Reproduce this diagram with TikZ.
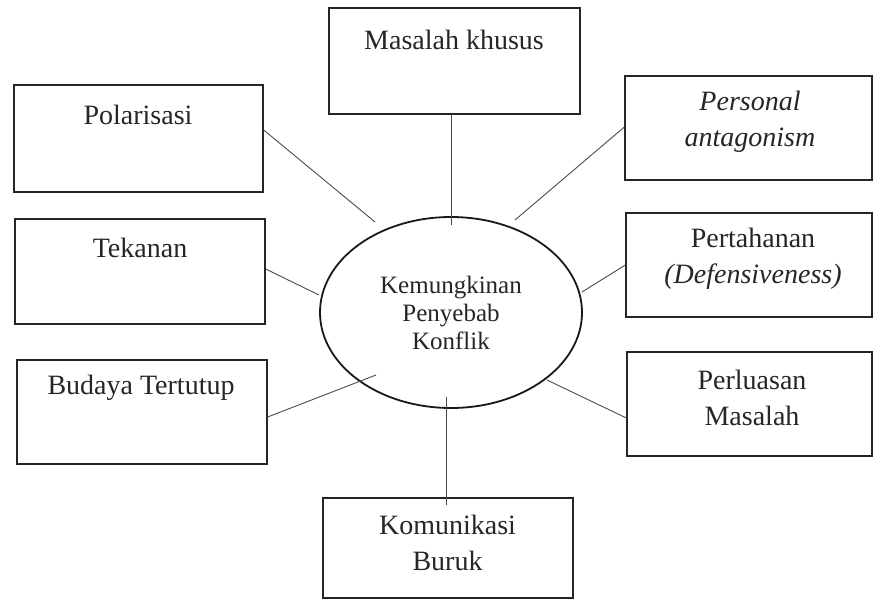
\documentclass[tikz,border=0pt]{standalone}
\usepackage{fontspec}
\setmainfont{Liberation Serif}
\usetikzlibrary{shapes.geometric}
\begin{document}
\begin{tikzpicture}[x=1pt,y=-1pt,
  box/.style={draw=black!85, line width=1.3pt, inner sep=0pt, minimum width=250pt, minimum height=105pt},
  lbl/.style={font=\fontsize{28}{36}\selectfont, align=center, inner sep=0pt, text=black!85},
  conn/.style={draw=black!70, line width=0.9pt},
  hub/.style={draw=black!90, line width=1.8pt, ellipse, inner sep=0pt, minimum width=262pt, minimum height=191pt,
    font=\fontsize{25}{28}\selectfont, align=center, text=black!85}]
\fill[white] (0,0) rectangle (874,601);
\useasboundingbox (0,0) rectangle (874,601);
% boxes
\node[box, minimum width=251pt, minimum height=106pt] (mk) at (454.5,61) {};
\node[box, minimum width=249pt, minimum height=107pt] (pol) at (138.5,138.5) {};
\node[box, minimum width=250pt, minimum height=105pt] (tek) at (140,271.5) {};
\node[box, minimum width=250pt, minimum height=104pt] (bud) at (142,412) {};
\node[box, minimum width=250pt, minimum height=100pt] (kom) at (448,548) {};
\node[box, minimum width=247pt, minimum height=104pt] (per) at (748.5,128) {};
\node[box, minimum width=246pt, minimum height=104pt] (pth) at (749,265) {};
\node[box, minimum width=245pt, minimum height=104pt] (plu) at (749.5,404) {};
% labels
\node[lbl] (mkt) at (454,40) {Masalah khusus};
\node[lbl] (polt) at (138,115) {Polarisasi};
\node[lbl] (tekt) at (140,248) {Tekanan};
\node[lbl] (budt) at (141,388) {Budaya Tertutup};
\node[lbl] (komt) at (447.5,542.5) {Komunikasi\\Buruk};
\node[lbl] (pert) at (750,121.5) {\itshape Personal\\\itshape antagonism};
\node[lbl] (ptht) at (753,259) {Pertahanan\\\itshape (Defensiveness)};
\node[lbl] (plut) at (752,397.5) {Perluasan\\Masalah};
% hub
\node[hub] (c) at (451,312.5) {Kemungkinan\\Penyebab\\Konflik};
% connector ends near the hub
\coordinate (cmk) at (451,225);
\coordinate (cpol) at (375,222);
\coordinate (cper) at (515,220);
\coordinate (ctek) at (319,295);
\coordinate (cpth) at (582,292);
\coordinate (cbud) at (376,375);
\coordinate (cplu) at (547,380);
\coordinate (ckom) at (446,397);
% connectors
\draw[conn] ([xshift=-3.5pt]mk.south) -- (cmk);
\draw[conn] ([yshift=8.5pt]pol.east) -- (cpol);
\draw[conn] ([yshift=1pt]per.west) -- (cper);
\draw[conn] ([yshift=2.5pt]tek.east) -- (ctek);
\draw[conn] (pth.west) -- (cpth);
\draw[conn] ([yshift=-5pt]bud.east) -- (cbud);
\draw[conn] ([yshift=-14pt]plu.west) -- (cplu);
\draw[conn] (ckom) -- ([xshift=-2pt,yshift=-8pt]kom.north);
\end{tikzpicture}
\end{document}
